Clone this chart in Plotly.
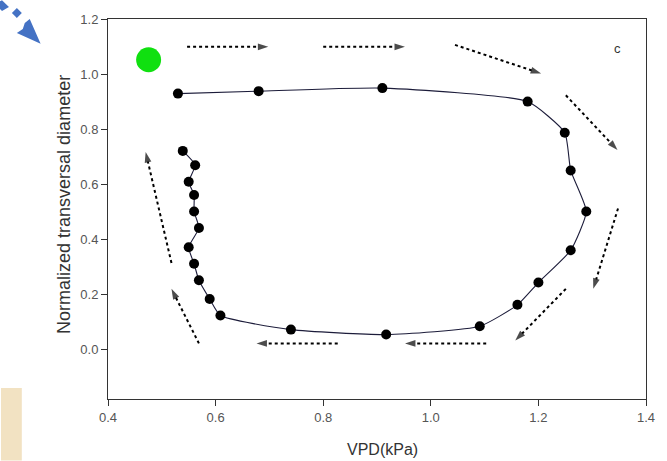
import plotly.graph_objects as go

# ---- data ----
vpd = [0.530, 0.680, 0.910, 1.180, 1.249, 1.260, 1.289, 1.260, 1.200, 1.161,
       1.091, 0.917, 0.740, 0.609, 0.589, 0.569, 0.560, 0.550, 0.569, 0.560,
       0.560, 0.550, 0.562, 0.539]
diameter = [0.929, 0.938, 0.949, 0.900, 0.787, 0.650, 0.501, 0.360, 0.243, 0.162,
            0.084, 0.054, 0.072, 0.123, 0.183, 0.251, 0.311, 0.371, 0.441, 0.501,
            0.561, 0.609, 0.669, 0.721]

start_x = [0.4755]
start_y = [1.052]

# direction arrows (tail x, tail y, head x, head y) in data units
arrow_x0 = [0.547, 0.800, 1.045, 1.251, 1.348, 1.251, 1.103, 0.827, 0.569, 0.518]
arrow_y0 = [1.099, 1.099, 1.106, 0.923, 0.512, 0.220, 0.022, 0.022, 0.022, 0.314]
arrow_x1 = [0.698, 0.952, 1.205, 1.347, 1.302, 1.157, 0.952, 0.676, 0.518, 0.470]
arrow_y1 = [1.099, 1.099, 1.002, 0.724, 0.220, 0.032, 0.022, 0.022, 0.220, 0.717]

x_ticks = [0.4, 0.6, 0.8, 1.0, 1.2, 1.4]
y_ticks = [0.0, 0.2, 0.4, 0.6, 0.8, 1.0, 1.2]
x_label = "VPD(kPa)"
y_label = "Normalized transversal diameter"
panel_label = "c"

# ---- layout geometry ----
W, H = 667, 461
ML, MR, MT, MB = 108, 16, 16, 62
PW, PH = W - ML - MR, H - MT - MB


def px(xp):
    return (xp - ML) / PW


def py(yp):
    return (H - MB - yp) / PH


FONT = "Arial, Liberation Sans, sans-serif"

fig = go.Figure()

fig.add_trace(go.Scatter(
    x=vpd, y=diameter, mode="lines+markers",
    line=dict(color="#1c1c3a", width=1.1, shape="spline", smoothing=0.5),
    marker=dict(color="black", size=10, symbol="circle"),
    showlegend=False, hoverinfo="skip"))

for x0, y0, x1, y1 in zip(arrow_x0, arrow_y0, arrow_x1, arrow_y1):
    fig.add_trace(go.Scatter(
        x=[x0, x1], y=[y0, y1], mode="lines+markers",
        line=dict(color="black", width=2, dash="dot"),
        marker=dict(symbol="arrow", size=[0, 11], angleref="previous",
                    color="black", line=dict(width=0)),
        showlegend=False, hoverinfo="skip"))

fig.add_trace(go.Scatter(
    x=start_x, y=start_y, mode="markers",
    marker=dict(color="#10e010", size=25, line=dict(width=0)),
    showlegend=False, hoverinfo="skip"))

# decorative blue arrow at top-left (outside plot area)
blue = "#4472c4"
shapes = []


def path(points):
    s = "M " + " L ".join(f"{px(a):.5f},{py(b):.5f}" for a, b in points) + " Z"
    return s


shapes.append(dict(type="path", xref="paper", yref="paper",
                   path=path([(1, -3), (8, 4), (1, 8), (-6, 1)]),
                   fillcolor=blue, line=dict(width=0), layer="above"))
shapes.append(dict(type="path", xref="paper", yref="paper",
                   path=path([(16, 5), (21, 10), (16, 15), (11, 10)]),
                   fillcolor=blue, line=dict(width=0), layer="above"))
shapes.append(dict(type="path", xref="paper", yref="paper",
                   path=path([(40, 41), (16, 30), (22, 26), (24, 20), (29, 16)]),
                   fillcolor=blue, line=dict(width=0), layer="above"))
# beige patch bottom-left
shapes.append(dict(type="rect", xref="paper", yref="paper",
                   x0=px(0), x1=px(21), y0=py(388), y1=py(461),
                   fillcolor="#f2e2c2", line=dict(width=0), layer="below"))

annotations = [
    dict(text=x_label, xref="paper", yref="paper", x=px(385), y=py(450),
         showarrow=False, font=dict(family=FONT, size=16, color="#333"),
         xanchor="center", yanchor="middle"),
    dict(text=y_label, xref="paper", yref="paper", x=px(63), y=py(203),
         showarrow=False, textangle=-90,
         font=dict(family=FONT, size=18, color="#333"),
         xanchor="center", yanchor="middle"),
    dict(text=panel_label, xref="paper", yref="paper", x=px(622), y=py(46),
         showarrow=False, font=dict(family=FONT, size=13, color="#333"),
         xanchor="center", yanchor="middle"),
]

axis_common = dict(showline=True, linecolor="#333", linewidth=1, mirror=True,
                   ticks="outside", ticklen=6, tickcolor="#333", tickwidth=1,
                   showgrid=False, zeroline=False,
                   tickfont=dict(family=FONT, size=13, color="#555"))

fig.update_xaxes(range=[0.4, 1.4], tickvals=x_ticks,
                 ticktext=[f"{v:.1f}" for v in x_ticks], **axis_common)
fig.update_yaxes(range=[-0.18, 1.2], tickvals=y_ticks,
                 ticktext=[f"{v:.1f}" for v in y_ticks], **axis_common)

fig.update_layout(width=W, height=H,
                  margin=dict(l=ML, r=MR, t=MT, b=MB, pad=0),
                  paper_bgcolor="white", plot_bgcolor="white",
                  shapes=shapes, annotations=annotations,
                  showlegend=False)

fig.write_html("out.html", include_plotlyjs=True, full_html=True,
               config={"displayModeBar": False},
               post_script="document.body.style.margin='0';"
                           "document.body.style.padding='0';"
                           "document.documentElement.style.margin='0';")
